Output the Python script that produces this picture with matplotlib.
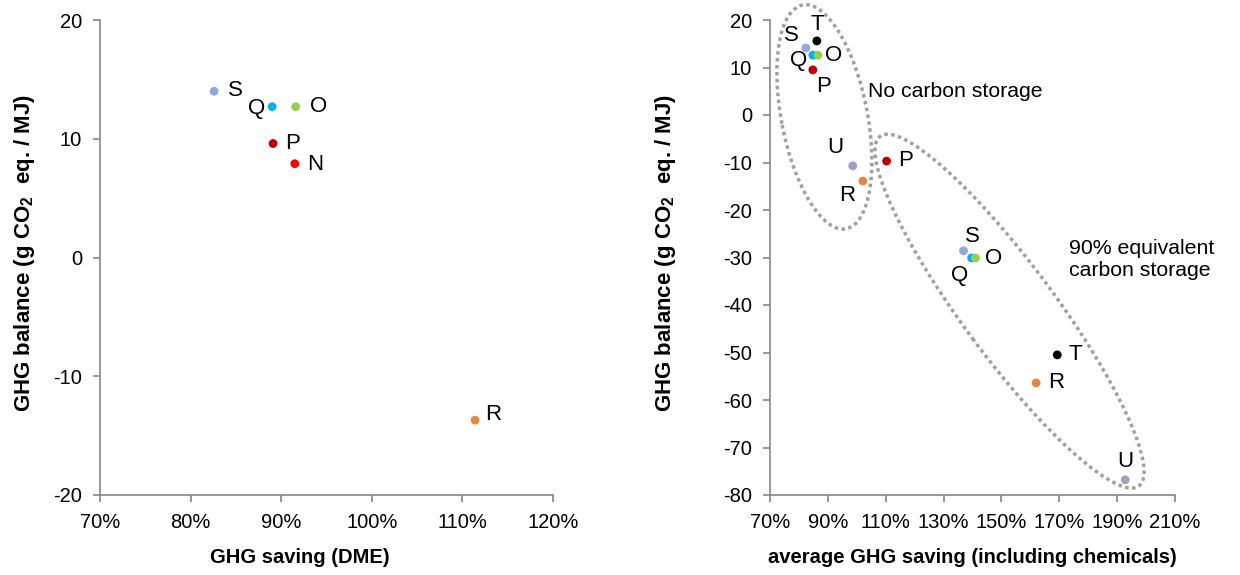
import matplotlib.pyplot as plt
from matplotlib.patches import Ellipse
from matplotlib.transforms import ScaledTranslation
from matplotlib.ticker import FuncFormatter

plt.rcParams['font.family'] = ['Liberation Sans', 'DejaVu Sans']
plt.rcParams['mathtext.default'] = 'regular'
plt.rcParams['axes.unicode_minus'] = False

# left chart: GHG saving (DME)
dme_names = ['S', 'Q', 'O', 'P', 'N', 'R']
dme_saving = [82.6, 89.0, 91.6, 89.1, 91.5, 111.4]
dme_balance = [14.0, 12.7, 12.7, 9.6, 7.9, -13.7]

# right chart: average GHG saving incl. chemicals
nocs_names = ['T', 'S', 'Q', 'O', 'P', 'U', 'R']
nocs_saving = [86.2, 82.4, 84.8, 86.6, 84.8, 98.6, 102.1]
nocs_balance = [15.6, 14.1, 12.6, 12.6, 9.5, -10.7, -13.9]

cs_names = ['P', 'S', 'Q', 'O', 'T', 'R', 'U']
cs_saving = [110.3, 136.9, 139.7, 141.0, 169.3, 162.0, 192.8]
cs_balance = [-9.7, -28.6, -30.1, -30.1, -50.5, -56.4, -76.8]

colors = {'S': '#8EA9DB', 'Q': '#00B0F0', 'O': '#92D050', 'P': '#C00000',
          'N': '#FF0000', 'R': '#E3893F', 'U': '#A99BC8', 'T': '#000000'}

# label offsets in pixels (dx, dy, ha)
dme_off = {'S': (14, 1, 'left'), 'Q': (-7, -2, 'right'), 'O': (14, 0, 'left'),
           'P': (12, 0, 'left'), 'N': (12, -1, 'left'), 'R': (10, 6, 'left')}
nocs_off = {'T': (0, 16, 'center'), 'S': (-7, 13, 'right'), 'Q': (-6, -5, 'right'),
            'O': (7, 0, 'left'), 'P': (11, -17, 'center'), 'U': (-17, 18, 'center'),
            'R': (-16, -14, 'center')}
cs_off = {'P': (12, 1, 'left'), 'S': (9, 14, 'center'), 'Q': (-12, -18, 'center'),
          'O': (10, -1, 'left'), 'T': (11, 0, 'left'), 'R': (12, 0, 'left'),
          'U': (0, 18, 'center')}

grey = '#868686'
tick_fs = 14.5
ylab = r'GHG balance (g CO$_2$  eq. / MJ)'


def style_axes(ax):
    for s in ['top', 'right']:
        ax.spines[s].set_visible(False)
    for s in ['left', 'bottom']:
        ax.spines[s].set_color(grey)
        ax.spines[s].set_linewidth(1.2)
    ax.tick_params(colors=grey, labelcolor='black', labelsize=tick_fs, length=5, width=1.2)
    ax.tick_params(axis='x', pad=8)
    ax.tick_params(axis='y', pad=8)
    ax.xaxis.set_major_formatter(FuncFormatter(lambda v, p: '%d%%' % round(v)))


def draw_points(ax, names, xs, ys, offsets):
    for n, x, y in zip(names, xs, ys):
        ax.scatter(x, y, s=40, color=colors[n], edgecolors='none', zorder=3, clip_on=False)
        dx, dy, ha = offsets[n]
        ax.annotate(n, (x, y), xytext=(dx, dy), textcoords='offset pixels',
                    ha=ha, va='center', fontsize=16)


fig = plt.figure(figsize=(12.4, 5.75), dpi=100)
ax1 = fig.add_axes([100 / 1240, 80 / 575, 453 / 1240, 475 / 575])
ax2 = fig.add_axes([770 / 1240, 80 / 575, 405 / 1240, 475 / 575])

draw_points(ax1, dme_names, dme_saving, dme_balance, dme_off)
ax1.set_xlim(70, 120)
ax1.set_ylim(-20, 20)
ax1.set_xticks(range(70, 121, 10))
ax1.set_yticks(range(-20, 21, 10))
style_axes(ax1)
ax1.set_xlabel('GHG saving (DME)', fontsize=14.5, fontweight='bold')
ax1.set_ylabel(ylab, fontsize=16, fontweight='bold')
ax1.xaxis.set_label_coords(0.44, -0.112)
ax1.yaxis.set_label_coords(-0.139, 0.51)

draw_points(ax2, nocs_names, nocs_saving, nocs_balance, nocs_off)
draw_points(ax2, cs_names, cs_saving, cs_balance, cs_off)
ax2.set_xlim(70, 210)
ax2.set_ylim(-80, 20)
ax2.set_xticks(range(70, 211, 20))
ax2.set_yticks(range(-80, 21, 10))
style_axes(ax2)
ax2.set_xlabel('average GHG saving (including chemicals)', fontsize=14.5, fontweight='bold')
ax2.set_ylabel(ylab, fontsize=16, fontweight='bold')
ax2.xaxis.set_label_coords(0.5, -0.112)
ax2.yaxis.set_label_coords(-0.227, 0.51)

# dotted group outlines, sized in pixels around a data-space centre
for cx, cy, w, h, ang in [(88.8, -0.4, 228, 86, -79), (152.8, -41.3, 435, 92, -53.5)]:
    tr = fig.dpi_scale_trans + ScaledTranslation(cx, cy, ax2.transData)
    ax2.add_patch(Ellipse((0, 0), w / 100, h / 100, angle=ang, transform=tr,
                          fill=False, edgecolor='#A0A0A0', linewidth=2.5,
                          linestyle=(0, (1, 1)), clip_on=False))

ax2.text(103.9, 5.0, 'No carbon storage', fontsize=15.3, ha='left', va='center')
ax2.text(173.4, -30.5, '90% equivalent\ncarbon storage', fontsize=15.3,
         ha='left', va='center', linespacing=1.2)

fig.savefig('out.png', dpi=100)
